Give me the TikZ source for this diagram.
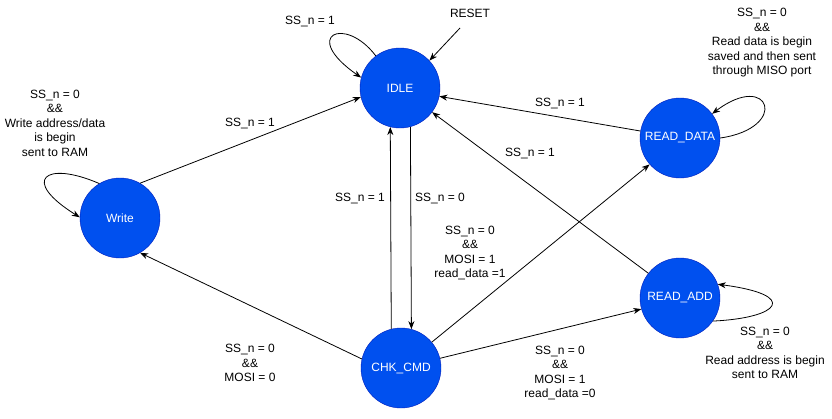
\documentclass[tikz,border=0pt]{standalone}
\usepackage{fontspec}
\setmainfont{Liberation Sans}
\usetikzlibrary{arrows.meta,
                positioning
            }
\definecolor{stfill}{HTML}{0050EF}
\definecolor{stline}{HTML}{001DBC}
\tikzset{
    fsm/.style={circle, draw=stline, fill=stfill, text=white, minimum size=80pt,
                inner sep=0pt, font=\fontsize{12}{14.5}\selectfont},
    lbl/.style={align=center, inner sep=0pt, font=\fontsize{12}{14.5}\selectfont},
    tr/.style={draw, line width=0.8pt, -{Stealth[length=8pt,width=6pt,inset=2.5pt]}}
}

\begin{document}
\begin{tikzpicture}[x=1pt, y=1pt]
            \useasboundingbox (0,0) rectangle (832,-418);
            % states
            \node[fsm] (idle) at (400, -88) {IDLE};
            \node[fsm] (write) at (120, -218) {Write};
            \node[fsm] (chk) at (401, -368) {CHK\_CMD};
            \node[fsm] (rdata) at (680, -138) {READ\_DATA};
            \node[fsm] (radd) at (680, -298) {READ\_ADD};

            % reset
            \node[lbl] (reset) at (470, -13) {RESET};
            \coordinate (rst) at (460, -28);
            \draw[tr] (rst) -- (idle.43);

            % loops
            \draw[tr] (idle.127) .. controls (345, -15) and (300, -35) .. (idle.165);
            \node[lbl] (idleloop) at (310, -22) {SS\_n = 1};
            \draw[tr] (write.121) .. controls (45, -160) and (20, -180) .. (write.179);
            \node[lbl] (writeloop) at (55, -123) {SS\_n = 0\\\&\&\\Write address/data\\is begin\\sent to RAM};
            \draw[tr] (rdata.0) .. controls (790, -128) and (770, -70) .. (rdata.37);
            \node[lbl] (rdataloop) at (762, -43) {SS\_n = 0\\\&\&\\Read data is begin\\saved and then sent\\through MISO port};
            \draw[tr] (radd.-35) .. controls (780, -318) and (800, -295) .. (radd.20);
            \node[lbl] (raddloop) at (765, -353) {SS\_n = 0\\\&\&\\Read address is begin\\sent to RAM};

            % transitions
            \draw[tr] (write.60) -- (idle.193);
            \node[lbl] (w2i) at (250, -123) {SS\_n = 1};
            \draw[tr] (idle.-75.5) -- (chk.75.5);
            \node[lbl] (i2c) at (440, -198) {SS\_n = 0};
            \draw[tr] (chk.104.5) -- (idle.-104.5);
            \node[lbl] (c2i) at (360, -198) {SS\_n = 1};
            \draw[tr] (chk.167) -- (write.-60);
            \node[lbl] (c2w) at (250, -363) {SS\_n = 0\\\&\&\\MOSI = 0};
            \draw[tr] (chk.40) -- (rdata.221);
            \node[lbl] (c2rd) at (470, -253) {SS\_n = 0\\\&\&\\MOSI = 1\\read\_data =1};
            \draw[tr] (chk.14) -- (radd.196);
            \node[lbl] (c2ra) at (560, -373) {SS\_n = 0\\\&\&\\MOSI = 1\\read\_data =0};
            \draw[tr] (radd.142) -- (idle.-37);
            \node[lbl] (ra2i) at (530, -153) {SS\_n = 1};
            \draw[tr] (rdata.170) -- (idle.-12);
            \node[lbl] (rd2i) at (560, -103) {SS\_n = 1};
        \end{tikzpicture}
\end{document}
